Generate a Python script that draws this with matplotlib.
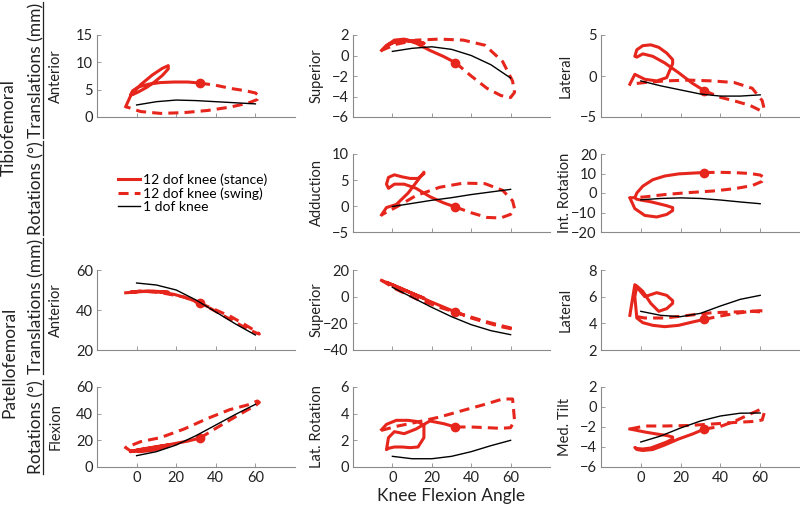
import matplotlib.pyplot as plt
from matplotlib.lines import Line2D

plt.rcParams['font.family'] = ['Lato', 'DejaVu Sans']

RED = '#e6261c'
GRAY = '#8a8a8a'

# knee flexion angle (deg) over stance and swing, and for the 1 dof curves
knee_stance = [-5.5, -3, 2, 8, 13, 16, 16, 13, 9, 5, 1, -2, -3, -2, 1, 6, 12, 19, 26, 32]
knee_swing = [32, 40, 48, 55, 60, 62, 61, 56, 47, 36, 24, 12, 2, -5.5]
knee_1dof = [0, 10, 20, 30, 40, 50, 60]

# tibiofemoral translations (mm)
tf_ant_stance = [1.9, 3.9, 5.9, 7.7, 8.9, 9.4, 8.8, 7.6, 6.4, 5.4, 4.6, 4.1, 4.1, 4.8, 5.5, 6.0, 6.3, 6.4, 6.4, 6.2]
tf_ant_swing = [6.2, 5.8, 5.2, 4.8, 4.4, 3.8, 3.2, 2.5, 1.8, 1.2, 0.8, 0.66, 1.0, 1.9]
tf_ant_1dof = [2.2, 2.8, 3.1, 3.0, 2.8, 2.6, 2.4]

tf_sup_stance = [0.5, 1.0, 1.4, 1.5, 1.3, 1.2, 1.2, 1.3, 1.4, 1.4, 1.3, 1.0, 0.8, 1.1, 1.5, 1.6, 1.2, 0.5, -0.1, -0.7]
tf_sup_swing = [-0.7, -2.0, -3.2, -3.9, -4.1, -3.6, -2.5, -0.6, 1.0, 1.5, 1.6, 1.5, 1.1, 0.5]
tf_sup_1dof = [0.4, 0.7, 0.85, 0.6, 0.0, -0.9, -2.2]

tf_lat_stance = [-1.0, 0.2, -0.4, -0.6, -0.2, 1.5, 2.0, 2.8, 3.5, 3.8, 3.7, 3.2, 2.4, 2.3, 2.7, 2.4, 1.6, 0.4, -0.9, -1.8]
tf_lat_swing = [-1.8, -2.6, -3.1, -3.6, -4.2, -4.0, -3.0, -1.5, -0.8, -0.6, -0.5, -0.6, -0.8, -1.0]
tf_lat_1dof = [-0.6, -1.2, -1.7, -2.2, -2.45, -2.45, -2.3]

# tibiofemoral rotations (deg)
tf_add_stance = [-1.7, -0.3, 0.3, 2.5, 5.0, 6.5, 6.2, 5.3, 5.3, 5.6, 6.0, 5.5, 4.2, 3.4, 4.2, 4.2, 3.4, 1.8, 0.6, -0.2]
tf_add_swing = [-0.2, -1.3, -2.2, -2.3, -1.6, -0.5, 1.0, 3.0, 4.3, 4.4, 3.6, 2.0, -0.2, -1.7]
tf_add_1dof = [-0.1, 0.5, 1.1, 1.6, 2.2, 2.7, 3.2]

tf_int_stance = [-2.5, -8, -11.5, -12.3, -11, -9, -7.5, -6.5, -5.5, -4.5, -3.8, -3.2, -2.5, 0, 3.5, 6.8, 8.7, 9.8, 10.2, 10.5]
tf_int_swing = [10.5, 10.6, 10.4, 10.0, 9.2, 8, 6, 3.8, 2.2, 1.0, 0.2, -0.8, -2.0, -2.5]
tf_int_1dof = [-3.5, -2.8, -2.5, -2.8, -3.6, -4.6, -5.5]

# patellofemoral translations (mm)
pf_ant_stance = [48.6, 48.8, 49.2, 49.4, 49.2, 49.0, 48.8, 49.0, 49.3, 49.4, 49.3, 49.0, 48.9, 49.0, 49.2, 49.3, 49.0, 47.8, 45.8, 43.4]
pf_ant_swing = [43.4, 40.0, 36.5, 32.5, 29.5, 28.0, 28.3, 30.5, 35.5, 41.5, 46.5, 48.7, 49.5, 48.6]
pf_ant_1dof = [53.5, 52.5, 50, 45, 39, 33, 27.5]

pf_sup_stance = [12.2, 10.6, 7.4, 3.6, 0.5, -1.2, -1.0, 0.8, 3.2, 5.7, 8.2, 10.0, 10.8, 10.3, 8.4, 5.2, 1.2, -3.5, -7.8, -11.5]
pf_sup_swing = [-11.5, -16, -19.5, -22.5, -24, -24.3, -23.8, -22, -18.5, -13.5, -8, -1.5, 5.5, 12.2]
pf_sup_1dof = [7, -0.5, -8, -15, -21, -25.5, -28.5]

pf_lat_stance = [4.6, 6.9, 6.0, 6.3, 6.1, 5.7, 5.5, 5.1, 4.9, 5.5, 6.4, 6.8, 6.0, 4.4, 4.05, 3.85, 3.75, 3.85, 4.1, 4.3]
pf_lat_swing = [4.3, 4.55, 4.75, 4.9, 4.95, 4.9, 4.85, 4.9, 4.85, 4.8, 4.6, 4.4, 4.4, 4.6]
pf_lat_1dof = [4.9, 4.6, 4.5, 4.75, 5.3, 5.8, 6.1]

# patellofemoral rotations (deg)
pf_flex_stance = [14.5, 12, 11.5, 12.5, 14, 15.5, 16.5, 16, 15, 14, 13, 12, 11.5, 12, 12.8, 14, 15.5, 17.5, 19.5, 21.7]
pf_flex_swing = [21.7, 29, 36, 42, 46, 48.5, 49.5, 46.5, 43, 36.5, 28.5, 22, 19, 14.5]
pf_flex_1dof = [8.5, 11.5, 16.5, 23.5, 31.5, 39.5, 47]

pf_latrot_stance = [2.8, 3.2, 3.5, 3.5, 3.4, 3.1, 2.2, 1.5, 1.45, 1.5, 1.5, 1.4, 1.3, 2.2, 2.65, 2.5, 2.85, 3.45, 3.25, 3.0]
pf_latrot_swing = [3.0, 3.0, 2.95, 2.9, 2.95, 3.5, 5.1, 5.1, 4.7, 4.25, 3.75, 3.35, 3.05, 2.75]
pf_latrot_1dof = [0.8, 0.62, 0.62, 0.8, 1.15, 1.6, 2.0]

pf_tilt_stance = [-2.2, -2.3, -2.5, -2.7, -2.85, -3.0, -3.2, -3.5, -3.8, -4.1, -4.2, -4.15, -4.05, -4.25, -4.35, -4.25, -3.8, -3.2, -2.7, -2.2]
pf_tilt_swing = [-2.2, -1.95, -1.35, -0.7, -0.25, -0.6, -1.3, -1.45, -1.55, -1.7, -1.85, -1.9, -1.9, -2.2]
pf_tilt_1dof = [-3.5, -2.9, -2.1, -1.4, -0.9, -0.62, -0.6]

# (row, col, label, ylim, yticks, stance, swing, 1 dof)
panels = [
    (0, 0, 'Anterior', (0, 15), [0, 5, 10, 15], tf_ant_stance, tf_ant_swing, tf_ant_1dof),
    (0, 1, 'Superior', (-6, 2), [-6, -4, -2, 0, 2], tf_sup_stance, tf_sup_swing, tf_sup_1dof),
    (0, 2, 'Lateral', (-5, 5), [-5, 0, 5], tf_lat_stance, tf_lat_swing, tf_lat_1dof),
    (1, 1, 'Adduction', (-5, 10), [-5, 0, 5, 10], tf_add_stance, tf_add_swing, tf_add_1dof),
    (1, 2, 'Int. Rotation', (-20, 20), [-20, -10, 0, 10, 20], tf_int_stance, tf_int_swing, tf_int_1dof),
    (2, 0, 'Anterior', (20, 60), [20, 40, 60], pf_ant_stance, pf_ant_swing, pf_ant_1dof),
    (2, 1, 'Superior', (-40, 20), [-40, -20, 0, 20], pf_sup_stance, pf_sup_swing, pf_sup_1dof),
    (2, 2, 'Lateral', (2, 8), [2, 4, 6, 8], pf_lat_stance, pf_lat_swing, pf_lat_1dof),
    (3, 0, 'Flexion', (0, 60), [0, 20, 40, 60], pf_flex_stance, pf_flex_swing, pf_flex_1dof),
    (3, 1, 'Lat. Rotation', (0, 6), [0, 2, 4, 6], pf_latrot_stance, pf_latrot_swing, pf_latrot_1dof),
    (3, 2, 'Med. Tilt', (-6, 2), [-6, -4, -2, 0, 2], pf_tilt_stance, pf_tilt_swing, pf_tilt_1dof),
]

W, H = 800, 505
col_x = [(97, 198), (353, 197), (601, 199)]
row_y = [(35, 117), (154, 232), (270, 350), (387, 467)]
label_x = [-0.207, -0.185, -0.18]

fig = plt.figure(figsize=(8, 5.05), dpi=100)

for row, col, label, ylim, yticks, st, sw, one in panels:
    x0, w = col_x[col]
    top, bot = row_y[row]
    ax = fig.add_axes([x0 / W, 1 - bot / H, w / W, (bot - top) / H])
    ax.plot(knee_stance, st, color=RED, lw=2.2, solid_joinstyle='round')
    ax.plot(knee_swing, sw, color=RED, lw=2.2, ls=(0, (3.3, 2)), dash_joinstyle='round')
    ax.plot(knee_stance[-1], st[-1], 'o', color=RED, ms=6)
    ax.plot(knee_1dof, one, color='black', lw=1.0)
    ax.set_xlim(-20, 80)
    ax.set_ylim(*ylim)
    ax.set_xticks([0, 20, 40, 60])
    ax.set_yticks(yticks)
    for s in ['top', 'right']:
        ax.spines[s].set_visible(False)
    for s in ['left', 'bottom']:
        ax.spines[s].set_color(GRAY)
        ax.spines[s].set_linewidth(0.8)
    ax.tick_params(direction='in', length=3, width=0.6, color=GRAY,
                   labelsize=10.5, labelcolor='#222222', pad=3)
    if row < 3:
        ax.tick_params(axis='x', labelbottom=False)
    ax.set_ylabel(label, fontsize=10.5, color='#222222', va='center')
    ax.yaxis.set_label_coords(label_x[col], 0.5)
    if row == 3 and col == 1:
        ax.set_xlabel('Knee Flexion Angle', fontsize=12.5, color='#222222', labelpad=2)

# group labels on the left
fig.text(9 / W, 1 - 128 / H, 'Tibiofemoral', rotation=90, ha='center', va='center',
         fontsize=12.5, color='#222222')
fig.text(9 / W, 1 - 362 / H, 'Patellofemoral', rotation=90, ha='center', va='center',
         fontsize=12.5, color='#222222')
sub_labels = []
for yc, txt in [(70, 'Translations (mm)'), (188, 'Rotations (°)'),
                (306, 'Translations (mm)'), (427, 'Rotations (°)')]:
    sub_labels.append(fig.text(36 / W, 1 - yc / H, txt, rotation=90, ha='center',
                               va='center', fontsize=12.5, color='#222222'))

# underline the rotated sub labels
fig.canvas.draw()
renderer = fig.canvas.get_renderer()
for t in sub_labels:
    bb = t.get_window_extent(renderer)
    ux = (bb.x1 - 1.5) / W
    fig.add_artist(Line2D([ux, ux], [bb.y0 / H, bb.y1 / H], transform=fig.transFigure,
                          color='#222222', lw=0.9))

handles = [Line2D([], [], color=RED, lw=2.2),
           Line2D([], [], color=RED, lw=2.2, ls=(0, (3.3, 2))),
           Line2D([], [], color='black', lw=1.0)]
fig.legend(handles, ['12 dof knee (stance)', '12 dof knee (swing)', '1 dof knee'],
           loc='center left', bbox_to_anchor=(118 / W, 1 - 193 / H), frameon=False,
           fontsize=10, handlelength=1.6, handletextpad=0.2, labelspacing=0.1,
           borderpad=0, borderaxespad=0)

fig.savefig('out.png', dpi=100)
